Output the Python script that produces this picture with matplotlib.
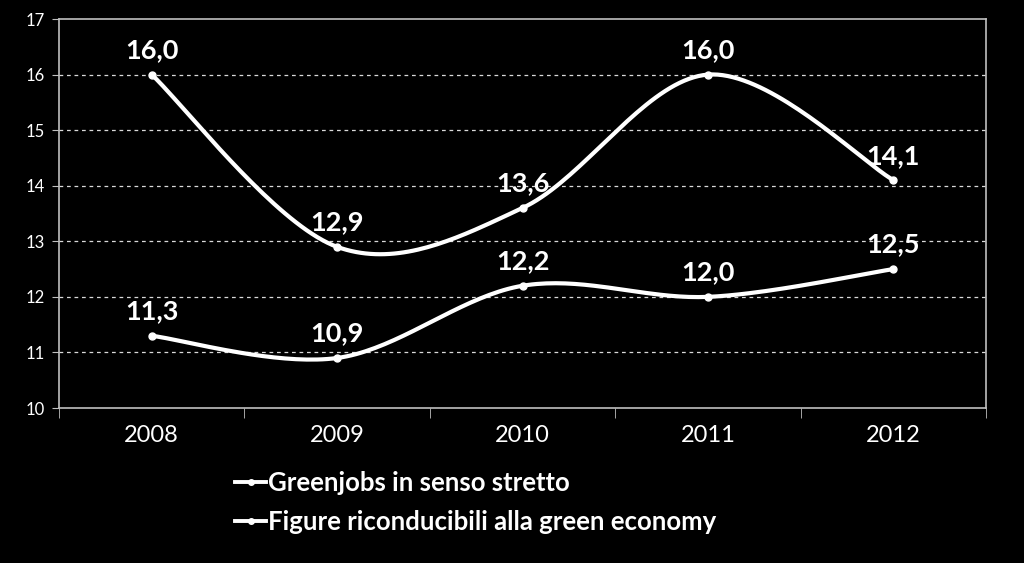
import matplotlib.pyplot as plt
import numpy as np

years = ['2008', '2009', '2010', '2011', '2012']
greenjobs = [16.0, 12.9, 13.6, 16.0, 14.1]
figure_green = [11.3, 10.9, 12.2, 12.0, 12.5]
series_names = ['Greenjobs in senso stretto', 'Figure riconducibili alla green economy']

plt.rcParams['font.family'] = ['Lato', 'DejaVu Sans']


def smooth(x, y, n=40):
    # Catmull-Rom style smoothing like Excel's "smoothed line"
    x = np.asarray(x, float)
    y = np.asarray(y, float)
    px = np.concatenate([[x[0]], x, [x[-1]]])
    py = np.concatenate([[y[0]], y, [y[-1]]])
    xs, ys = [], []
    for i in range(1, len(px) - 2):
        p0, p1, p2, p3 = [np.array([px[j], py[j]]) for j in range(i - 1, i + 3)]
        c1 = p1 + (p2 - p0) / 6
        c2 = p2 - (p3 - p1) / 6
        t = np.linspace(0, 1, n)[:, None]
        b = (1 - t) ** 3 * p1 + 3 * (1 - t) ** 2 * t * c1 + 3 * (1 - t) * t ** 2 * c2 + t ** 3 * p2
        xs.extend(b[:, 0])
        ys.extend(b[:, 1])
    return np.array(xs), np.array(ys)


fig = plt.figure(figsize=(10.24, 5.63), dpi=100, facecolor='black')
ax = fig.add_axes([0.0576, 0.2753, 0.9054, 0.6909], facecolor='black')

x = np.arange(len(years))
handles = []
for vals, name in zip([greenjobs, figure_green], series_names):
    sx, sy = smooth(x, vals)
    ax.plot(sx, sy, color='white', lw=3.0, solid_capstyle='round', zorder=3)
    ax.plot(x, vals, 'o', color='white', ms=5, zorder=4)
    h, = ax.plot([], [], color='white', lw=2.8, marker='o', ms=4)
    handles.append(h)
    for xi, v in zip(x, vals):
        ax.annotate(f'{v:.1f}'.replace('.', ','), (xi, v), xytext=(0, 9),
                    textcoords='offset points', ha='center', va='bottom',
                    color='white', fontsize=19.5, fontweight='bold')

ax.set_xlim(-0.5, len(years) - 0.5)
ax.set_ylim(10, 17)
ax.set_yticks(range(10, 18))
ax.set_xticks(x)
ax.set_xticklabels(years)
ax.set_xticks(np.arange(-0.5, len(years)), minor=True)
ax.tick_params(axis='x', which='major', length=0, colors='white', labelsize=17, pad=12)
ax.tick_params(axis='x', which='minor', length=7, color='#bfbfbf')
ax.tick_params(axis='y', length=5, color='#bfbfbf', colors='white', labelsize=12, pad=5)
for lbl in ax.get_yticklabels() + ax.get_xticklabels():
    lbl.set_color('white')

for y in range(11, 17):
    ax.axhline(y, color='#d9d9d9', lw=0.9, ls=(0, (3, 3)), zorder=1)
for s in ax.spines.values():
    s.set_color('#bfbfbf')
    s.set_linewidth(1.2)

leg = fig.legend(handles, series_names, loc='upper left', bbox_to_anchor=(0.207, 0.205),
                 frameon=False, handlelength=1.2, handletextpad=0.1, labelspacing=0.6,
                 prop={'size': 18.5, 'weight': 'bold'})
for t in leg.get_texts():
    t.set_color('white')

fig.savefig('out.png', dpi=100, facecolor='black')
